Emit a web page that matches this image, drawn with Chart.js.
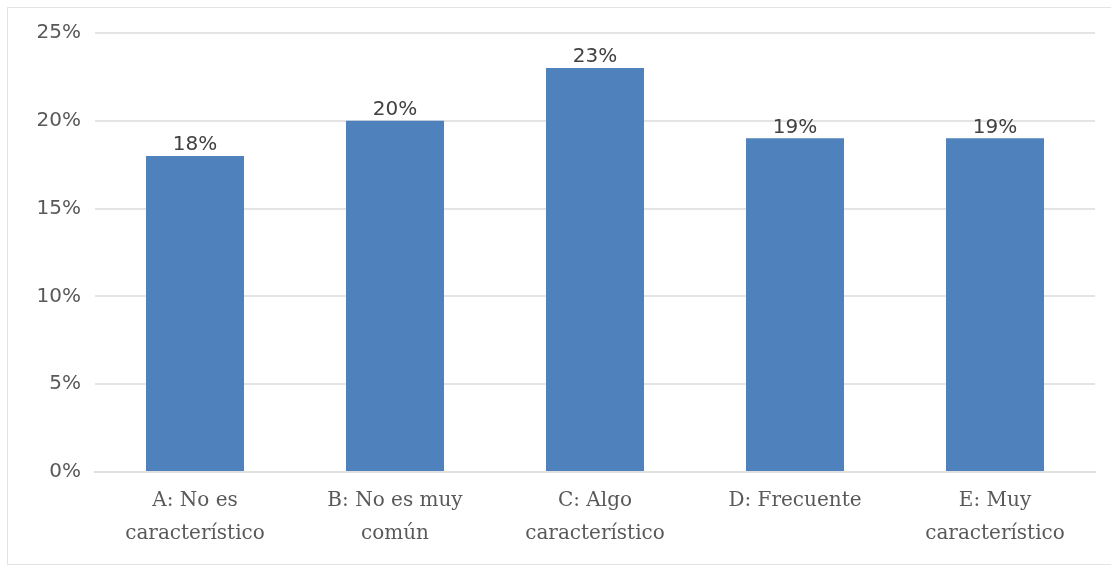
<!DOCTYPE html>
<html>
<head>
<meta charset="utf-8">
<script src="https://cdn.jsdelivr.net/npm/chart.js@4/dist/chart.umd.min.js"></script>
<style>
    html, body { margin: 0; padding: 0; background: #fff; }
    #wrap { position: relative; width: 1111px; height: 569px; overflow: hidden; }
    #frame { position: absolute; left: 7px; top: 7px; width: 1200px; height: 558px; border: 1px solid #e3e3e3; box-sizing: border-box; }
    #cv { position: absolute; left: 0; top: 0; }
</style>
</head>
<body>
<div id="wrap">
    <div id="frame"></div>
    <canvas id="cv" width="1111" height="569"></canvas>
</div>
<script>
// Categories and percentages
const categories = [
    ['A: No es', 'característico'],
    ['B: No es muy', 'común'],
    ['C: Algo', 'característico'],
    ['D: Frecuente'],
    ['E: Muy', 'característico']
];
const values = [18, 20, 23, 19, 19];
const yTicks = [0, 5, 10, 15, 20, 25];

// Draws the value above each bar
const barLabels = {
    id: 'barLabels',
    afterDatasetsDraw(chart) {
        const ctx = chart.ctx;
        const meta = chart.getDatasetMeta(0);
        ctx.save();
        ctx.font = '20px "DejaVu Sans"';
        ctx.fillStyle = '#404040';
        ctx.textAlign = 'center';
        ctx.textBaseline = 'bottom';
        meta.data.forEach((bar, i) => {
            ctx.fillText(values[i] + '%', bar.x, bar.y - 1);
        });
        ctx.restore();
    }
};

const ctx = document.getElementById('cv').getContext('2d');
new Chart(ctx, {
    type: 'bar',
    data: {
        labels: categories,
        datasets: [{
            data: values,
            backgroundColor: '#4f81bd',
            borderWidth: 0,
            barPercentage: 0.49,
            categoryPercentage: 1
        }]
    },
    options: {
        responsive: false,
        animation: false,
        layout: { padding: { top: 33, right: 16, left: 0, bottom: 0 } },
        plugins: {
            legend: { display: false },
            tooltip: { enabled: false }
        },
        scales: {
            y: {
                min: 0,
                max: 25,
                afterBuildTicks(s) { s.ticks = yTicks.map(v => ({ value: v })); },
                afterFit(s) { s.width = 95; },
                border: { display: false },
                grid: { color: '#e4e4e4', lineWidth: 2, drawTicks: false },
                ticks: {
                    padding: 14,
                    color: '#595959',
                    font: { family: 'DejaVu Sans', size: 20 },
                    callback: v => v + '%'
                }
            },
            x: {
                afterFit(s) { s.height = 97; },
                border: { color: '#e0e0e0', width: 2 },
                grid: { display: false },
                ticks: {
                    padding: 4,
                    color: '#595959',
                    maxRotation: 0,
                    font: { family: 'DejaVu Serif', size: 20, lineHeight: 1.65 }
                }
            }
        }
    },
    plugins: [barLabels]
});
</script>
</body>
</html>
